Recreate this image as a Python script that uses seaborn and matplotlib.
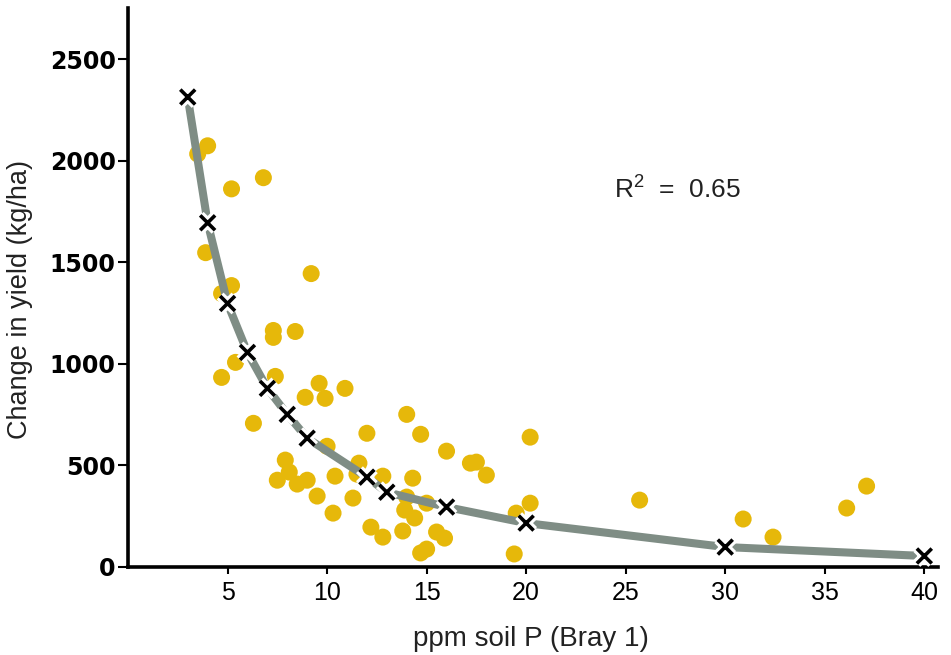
import numpy as np
import pandas as pd
import seaborn as sns
import matplotlib.pyplot as plt
import matplotlib.patheffects as pe

# observed responses: soil P (ppm, Bray 1) and change in yield (kg/ha)
soil_p = [3.5, 4.0, 5.2, 6.8, 3.9, 9.2, 5.2, 4.7, 7.3, 7.3, 8.4, 5.4, 4.7,
          7.4, 9.6, 10.9, 8.9, 9.9, 6.3, 12.0, 14.0, 14.7, 16.0, 17.2, 17.5,
          18.0, 10.0, 7.9, 8.1, 7.5, 8.5, 9.0, 10.4, 9.5, 11.3, 10.3, 11.6,
          11.5, 12.8, 14.3, 14.0, 13.9, 14.4, 15.0, 13.8, 12.2, 12.8, 15.5,
          15.9, 15.0, 14.7, 20.2, 20.2, 19.5, 19.4, 25.7, 30.9, 32.4, 36.1,
          37.1]
yield_change = [2033, 2073, 1861, 1916, 1547, 1444, 1385, 1346, 1164, 1130,
                1159, 1007, 933, 938, 904, 879, 835, 830, 707, 658, 751, 653,
                570, 511, 516, 452, 594, 526, 467, 427, 408, 427, 447, 349,
                339, 265, 511, 457, 447, 437, 344, 280, 241, 314, 177, 196,
                147, 172, 142, 88, 69, 639, 314, 265, 64, 329, 236, 147, 290,
                398]

# points on the fitted response curve (marked with x)
fit_p = [3, 4, 5, 6, 7, 8, 9, 12, 13, 16, 20, 30, 40]
fit_yield = [2313, 1694, 1297, 1056, 879, 751, 634, 442, 368, 295, 216, 98, 54]

x_ticks = [5, 10, 15, 20, 25, 30, 35, 40]
y_ticks = [0, 500, 1000, 1500, 2000, 2500]

obs = pd.DataFrame({"p": soil_p, "dy": yield_change})
fit = pd.DataFrame({"p": fit_p, "dy": fit_yield})

sns.set_style("ticks")
plt.rcParams['font.family'] = ['Liberation Sans', 'DejaVu Sans']
plt.rcParams['mathtext.default'] = 'regular'

fig = plt.figure(figsize=(9.51, 6.55), dpi=100)
ax = fig.add_axes([0.1346, 0.1344, 0.852, 0.853])

sns.scatterplot(data=obs, x="p", y="dy", ax=ax, s=150, color="#E6B80A",
                edgecolor="none", zorder=2)
sns.lineplot(data=fit, x="p", y="dy", ax=ax, color="#7F8D85", lw=5.8,
             zorder=3)
sns.scatterplot(data=fit, x="p", y="dy", ax=ax, marker="x", s=115,
                color="black", linewidth=2.6, zorder=4,
                path_effects=[pe.withStroke(linewidth=7, foreground="white")])

ax.set_xlim(0, 40.7)
ax.set_ylim(0, 2750)
ax.set_xticks(x_ticks)
ax.set_yticks(y_ticks)
sns.despine(ax=ax)
for side in ["left", "bottom"]:
    ax.spines[side].set_linewidth(2.6)
    ax.spines[side].set_color("black")

ax.tick_params(axis="x", length=5, width=1.5, pad=5, labelsize=18,
               colors="black")
ax.tick_params(axis="y", length=7, width=1.5, pad=2, labelsize=17,
               colors="black")
for lab in ax.get_yticklabels():
    lab.set_fontweight("bold")
    lab.set_family("DejaVu Sans")

ax.set_xlabel("ppm soil P (Bray 1)", fontsize=20, color="#222222")
ax.set_ylabel("Change in yield (kg/ha)", fontsize=19.5, color="#222222")
ax.xaxis.set_label_coords(0.4975, -0.105)
ax.yaxis.set_label_coords(-0.117, 0.479)

ax.text(24.4, 1855, r"R$^{2}$  =  0.65", fontsize=19, va="center",
        color="#222222")

fig.savefig("out.png", dpi=100)
